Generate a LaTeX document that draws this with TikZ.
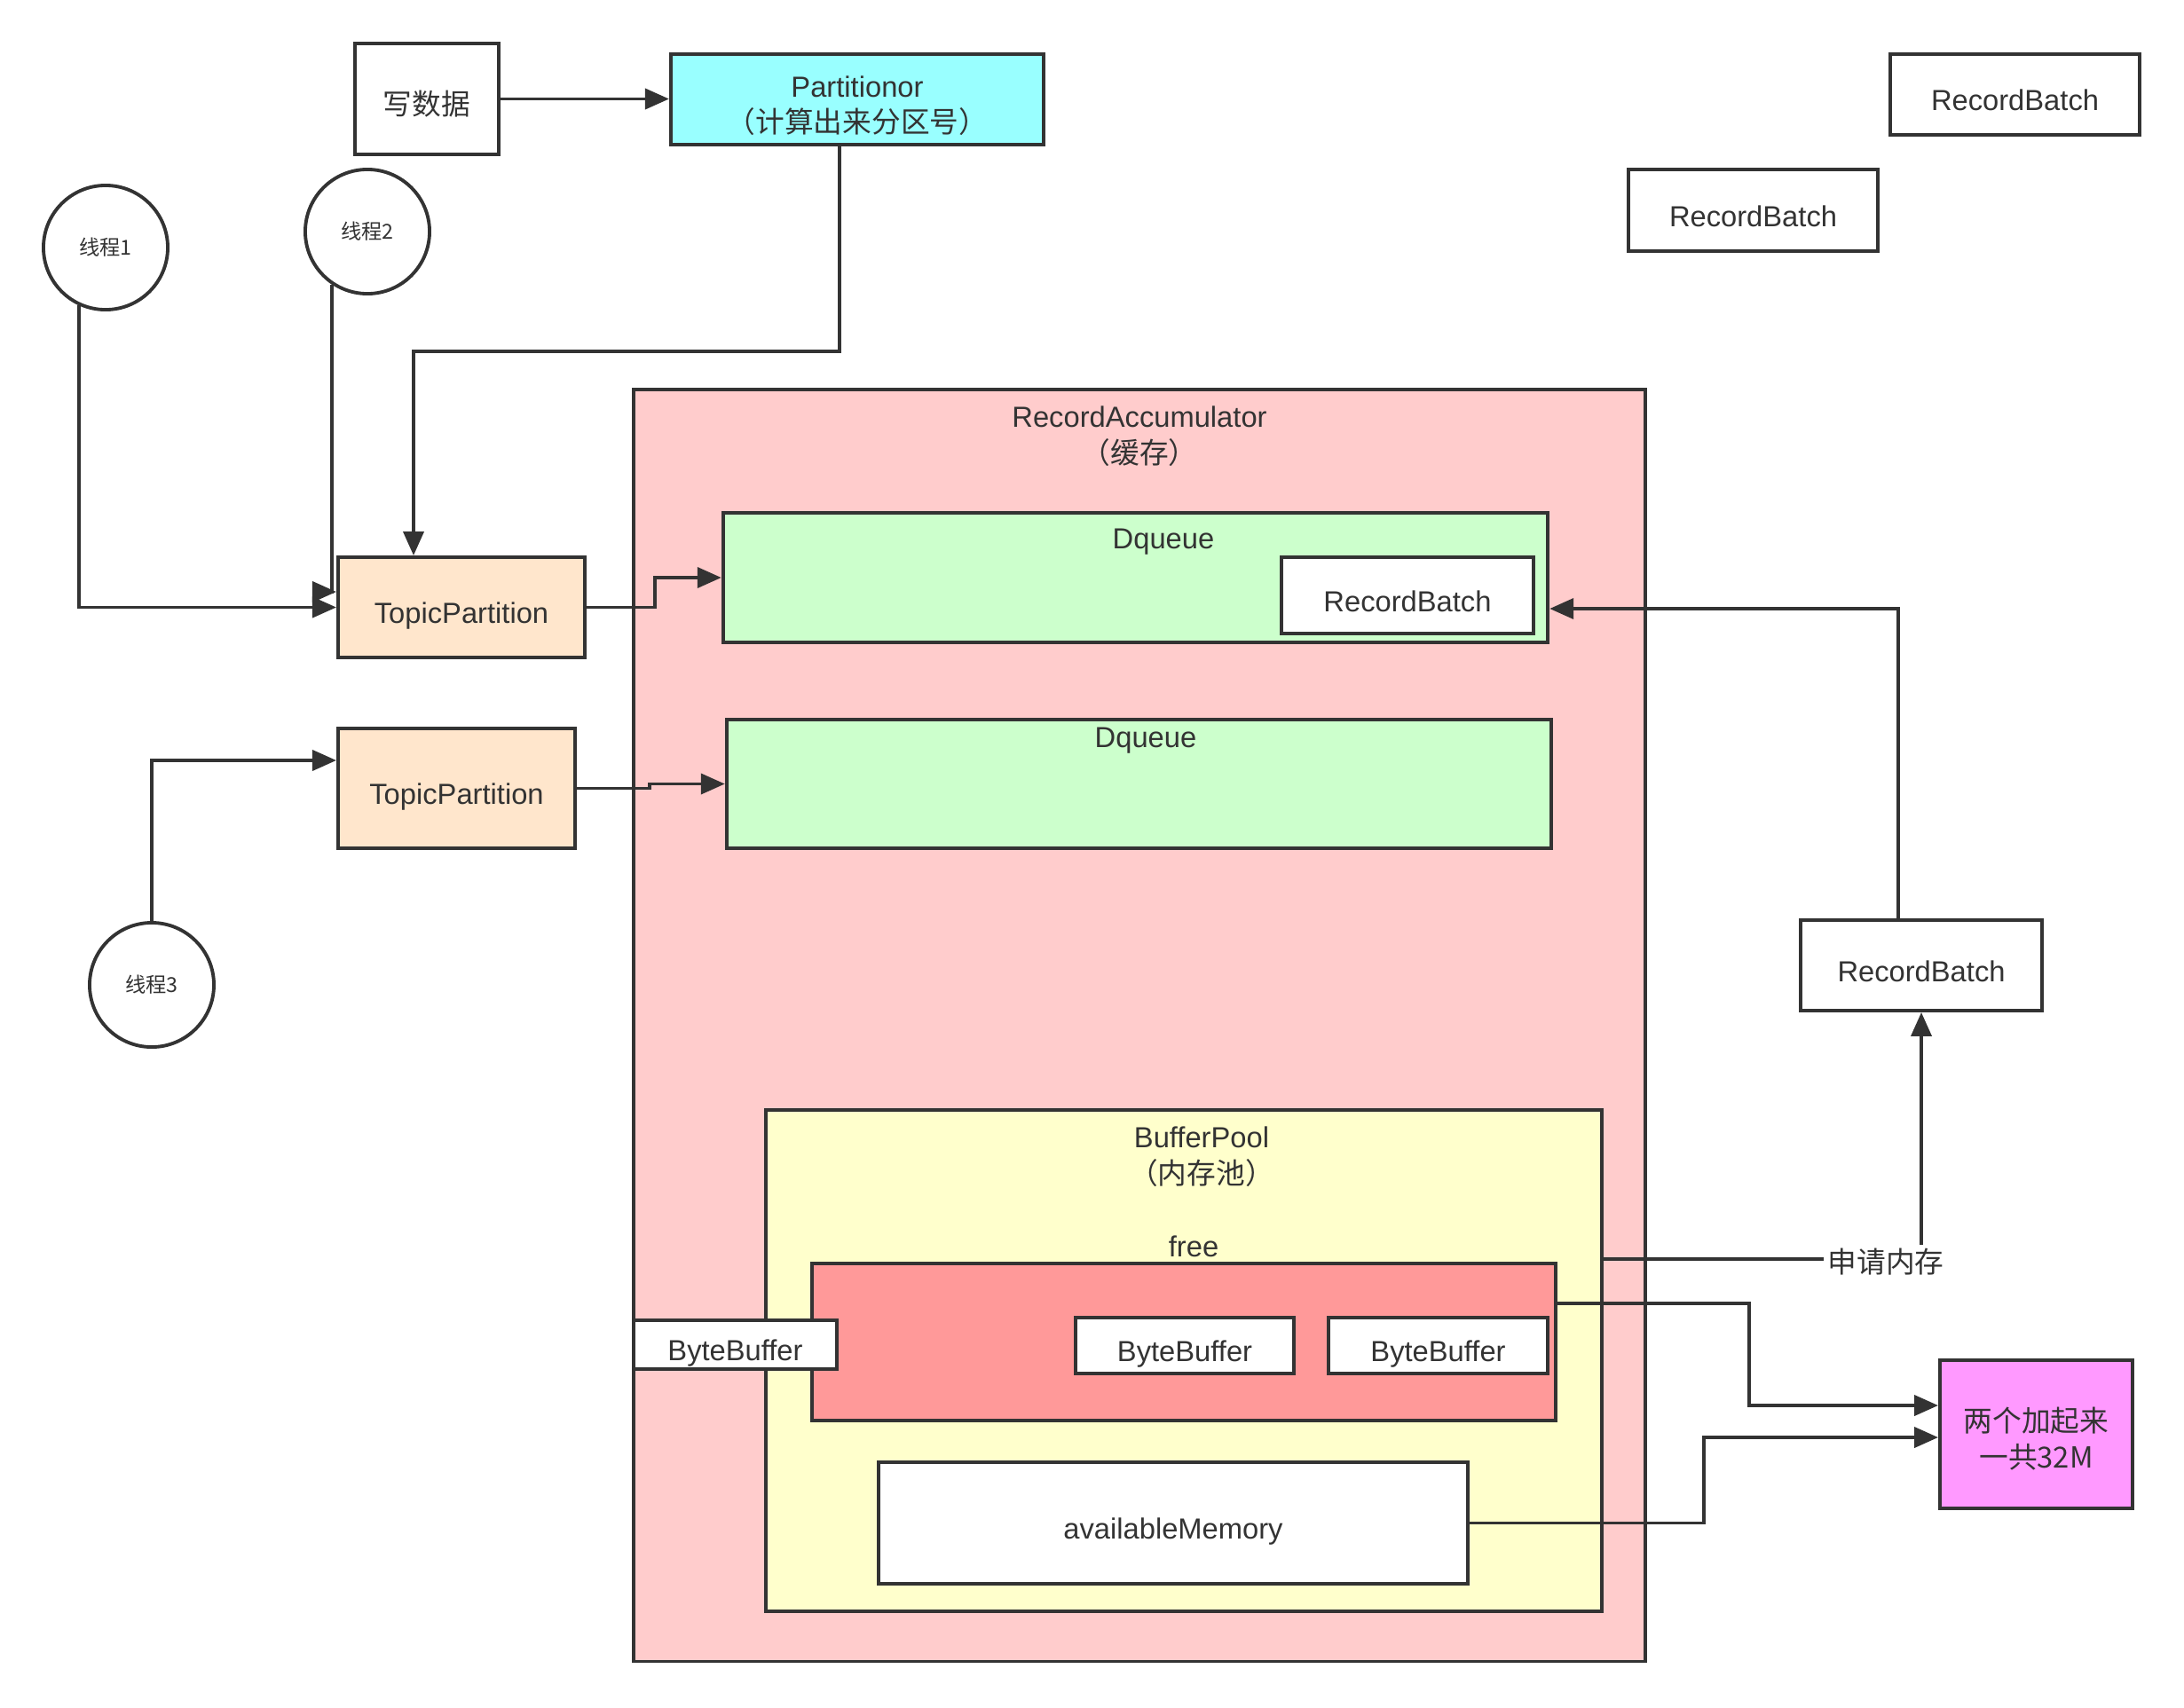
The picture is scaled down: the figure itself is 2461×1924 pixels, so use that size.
\documentclass[tikz,border=0pt]{standalone}
\usepackage{fontspec}
\setmainfont{Liberation Sans}
\newfontfamily\cjk{Noto Sans CJK SC}
\usetikzlibrary{arrows.meta}
\definecolor{ink}{HTML}{333333}
\definecolor{cyanfill}{HTML}{99FFFF}
\definecolor{peach}{HTML}{FFE6CC}
\definecolor{pinkfill}{HTML}{FFCCCC}
\definecolor{greenfill}{HTML}{CCFFCC}
\definecolor{yellowfill}{HTML}{FFFFCC}
\definecolor{redfill}{HTML}{FF9999}
\definecolor{magfill}{HTML}{FF99FF}
\begin{document}
\begin{tikzpicture}[x=0.01cm,y=-0.01cm,
  box/.style={draw=ink, line width=1.1pt, inner sep=0pt, text=ink,
    font=\fontsize{9.3}{11.6}\selectfont, align=center, text height=10.3pt, text depth=0pt},
  twoline/.style={text height=21.5pt, text depth=0pt},
  thread/.style={circle, draw=ink, line width=1.1pt, minimum size=1.4cm, inner sep=0pt,
    text=ink, font=\cjk\fontsize{6.6}{8}\selectfont},
  lbl/.style={text=ink, font=\fontsize{9.3}{11.6}\selectfont, align=center, inner sep=1pt},
  conn/.style={draw=ink, line width=1.1pt, -{Triangle[length=0.27cm,width=0.23cm]}},
  plain/.style={draw=ink, line width=1.1pt}]
\fill[white] (0,0) rectangle (2461,1924);
\useasboundingbox (0,0) rectangle (2461,1924);

% top
\node[box, fill=white, minimum width=1.62cm, minimum height=1.25cm] (write) at (481,111.5) {\cjk 写数据};
\node[box, twoline, fill=cyanfill, minimum width=4.20cm, minimum height=1.02cm] (part) at (966,112) {Partitionor\\{\cjk （计算出来分区号）}};
\node[box, fill=white, minimum width=2.81cm, minimum height=0.91cm] (rbA) at (2270.5,106.5) {RecordBatch};
\node[box, fill=white, minimum width=2.81cm, minimum height=0.92cm] (rbB) at (1975.5,237) {RecordBatch};

% threads
\node[thread] (t1) at (119,279) {线程1};
\node[thread] (t2) at (414,261) {线程2};
\node[thread] (t3) at (171,1110) {线程3};

% topic partitions
\node[box, fill=peach, minimum width=2.78cm, minimum height=1.13cm] (tp1) at (520,684.5) {TopicPartition};
\node[box, fill=peach, minimum width=2.67cm, minimum height=1.35cm] (tp2) at (514.5,888.5) {TopicPartition};

% accumulator
\node[box, fill=pinkfill, minimum width=11.40cm, minimum height=14.33cm] (ra) at (1284,1155.5) {};
\node[lbl] (ralbl) at (1284,492) {RecordAccumulator\\{\cjk （缓存）}};

\node[box, fill=greenfill, minimum width=9.29cm, minimum height=1.46cm] (dq1) at (1279.5,651) {};
\node[lbl] (dq1lbl) at (1311,611) {Dqueue};
\node[box, fill=white, minimum width=2.84cm, minimum height=0.86cm] (rb0) at (1586,671) {RecordBatch};

\node[box, fill=greenfill, minimum width=9.29cm, minimum height=1.45cm] (dq2) at (1283.5,883.5) {};
\node[lbl] (dq2lbl) at (1291,835) {Dqueue};

% buffer pool
\node[box, fill=yellowfill, minimum width=9.42cm, minimum height=5.65cm] (bp) at (1334,1533.5) {};
\node[lbl] (bplbl) at (1354,1304) {BufferPool\\{\cjk （内存池）}};
\node[lbl] (freelbl) at (1345,1405) {free};
\node[box, fill=redfill, minimum width=8.38cm, minimum height=1.77cm] (free) at (1334,1512.5) {};
\node[box, fill=white, minimum width=2.29cm, minimum height=0.55cm] (bbL) at (828.5,1515.5) {ByteBuffer};
\node[box, fill=white, minimum width=2.46cm, minimum height=0.63cm] (bb2) at (1335,1516.5) {ByteBuffer};
\node[box, fill=white, minimum width=2.47cm, minimum height=0.63cm] (bb3) at (1620.5,1516.5) {ByteBuffer};
\node[box, fill=white, minimum width=6.64cm, minimum height=1.37cm] (avail) at (1322,1716.5) {availableMemory};

% right side
\node[box, fill=white, minimum width=2.72cm, minimum height=1.02cm] (rb3) at (2165,1088) {RecordBatch};
\node[box, twoline, fill=magfill, minimum width=2.17cm, minimum height=1.67cm] (sum) at (2294.5,1616.5) {{\cjk 两个加起来}\\{\cjk 一共32M}};
\node[lbl, font=\cjk\fontsize{9.3}{11.6}\selectfont] (apply) at (2125,1422) {申请内存};

% connectors
\draw[conn] (write.east) -- (write.east -| part.west);
\draw[conn] (946,0 |- part.south) -- (946,396) -- (466,396) -- (466,0 |- tp1.north);
\draw[conn] (t1.-115) |- (tp1.west);
\draw[conn] (t2.-124) |- ([yshift=0.175cm]tp1.west);
\draw[conn] (t3.north) |- ([yshift=0.315cm]tp2.west);
\draw[conn] (tp1.east) -- (738,0 |- tp1.east) -- (738,0 |- dq1.west) -- (dq1.west);
\draw[conn] (tp2.east) -- (732,0 |- tp2.east) -- (732,0 |- dq2.west) -- (dq2.west);
\draw[conn] (2139,0 |- rb3.north) -- (2139,686) -- (dq1.east |- 0,686);
\draw[plain] (bp.east |- 0,1419) -- (apply.west |- 0,1419);
\draw[conn] (apply.north -| rb3.south) -- (rb3.south);
\draw[conn] (free.east |- 0,1469) -- (1971,1469) -- (1971,1584) -- (sum.west |- 0,1584);
\draw[conn] (avail.east) -- (1920,0 |- avail.east) -- (1920,1620) -- (sum.west |- 0,1620);
\end{tikzpicture}
\end{document}
